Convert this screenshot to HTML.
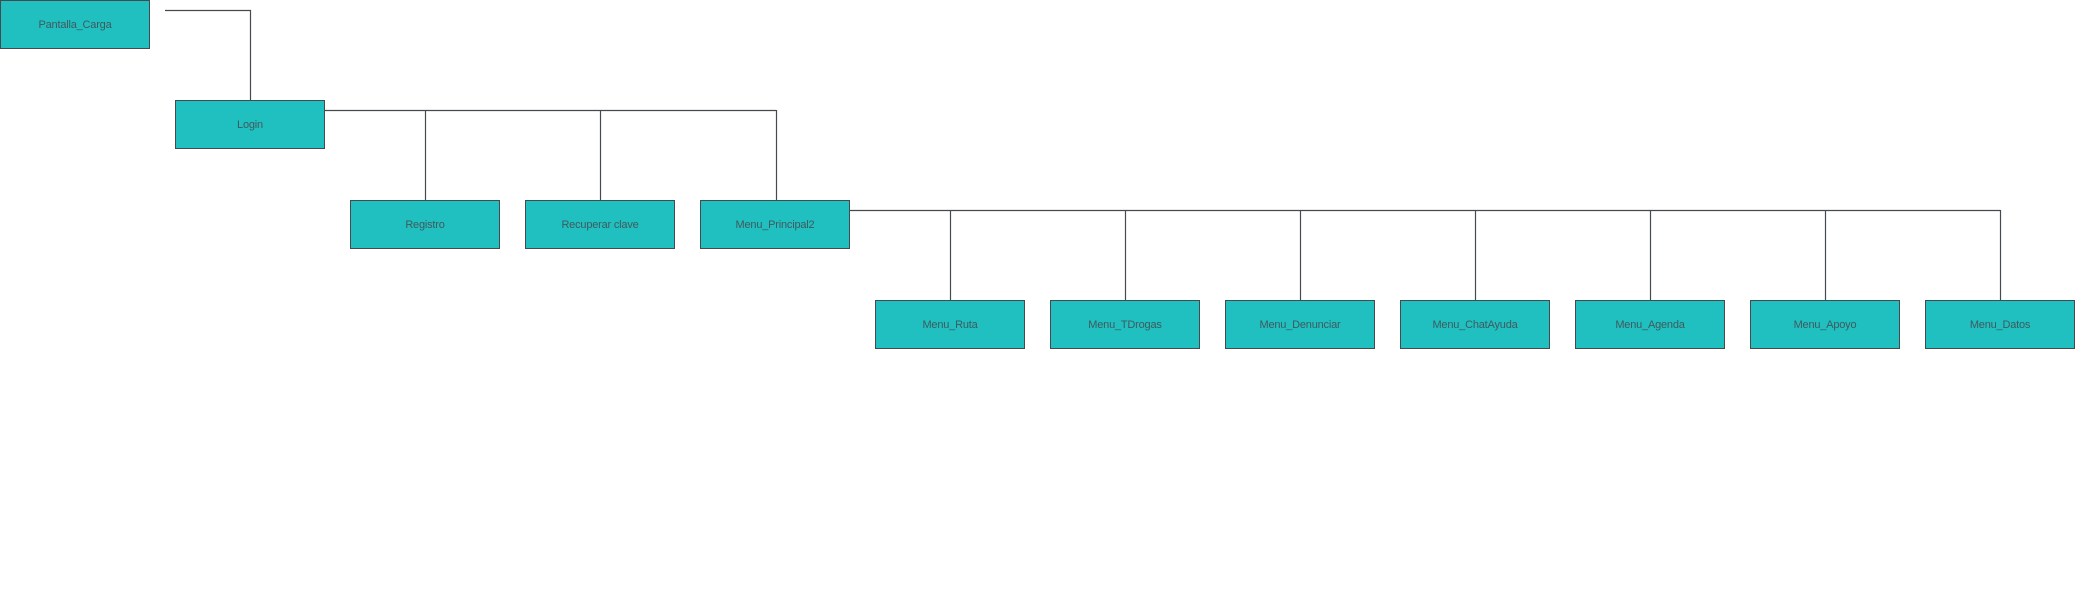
<!DOCTYPE html>
<html><head><meta charset="utf-8"><style>
html,body{margin:0;padding:0;background:#fff;}
body{width:2100px;height:594px;position:relative;overflow:hidden;}
.b{position:absolute;width:148px;height:47px;background:#20c0c0;border:1px solid #444a4d;display:flex;align-items:center;justify-content:center;font-family:"Liberation Sans",sans-serif;font-size:11px;color:#3f5a5e;letter-spacing:-0.2px;}
svg{position:absolute;left:0;top:0;}
</style></head><body>
<svg width="2100" height="594">
<g stroke="#444a4d" stroke-width="1.2" fill="none">
<polyline points="165,10.5 250.5,10.5 250.5,100"/>
<line x1="325" y1="110.5" x2="776.5" y2="110.5"/>
<line x1="425.5" y1="110" x2="425.5" y2="200"/>
<line x1="600.5" y1="110" x2="600.5" y2="200"/>
<line x1="776.5" y1="110" x2="776.5" y2="200"/>
<line x1="850" y1="210.5" x2="2000.5" y2="210.5"/>
<line x1="950.5" y1="210" x2="950.5" y2="300"/>
<line x1="1125.5" y1="210" x2="1125.5" y2="300"/>
<line x1="1300.5" y1="210" x2="1300.5" y2="300"/>
<line x1="1475.5" y1="210" x2="1475.5" y2="300"/>
<line x1="1650.5" y1="210" x2="1650.5" y2="300"/>
<line x1="1825.5" y1="210" x2="1825.5" y2="300"/>
<line x1="2000.5" y1="210" x2="2000.5" y2="300"/>
</g></svg>
<div class="b" style="left:0;top:0">Pantalla_Carga</div>
<div class="b" style="left:175px;top:100px">Login</div>
<div class="b" style="left:350px;top:200px">Registro</div>
<div class="b" style="left:525px;top:200px">Recuperar clave</div>
<div class="b" style="left:700px;top:200px">Menu_Principal2</div>
<div class="b" style="left:875px;top:300px">Menu_Ruta</div>
<div class="b" style="left:1050px;top:300px">Menu_TDrogas</div>
<div class="b" style="left:1225px;top:300px">Menu_Denunciar</div>
<div class="b" style="left:1400px;top:300px">Menu_ChatAyuda</div>
<div class="b" style="left:1575px;top:300px">Menu_Agenda</div>
<div class="b" style="left:1750px;top:300px">Menu_Apoyo</div>
<div class="b" style="left:1925px;top:300px">Menu_Datos</div>
</body></html>
